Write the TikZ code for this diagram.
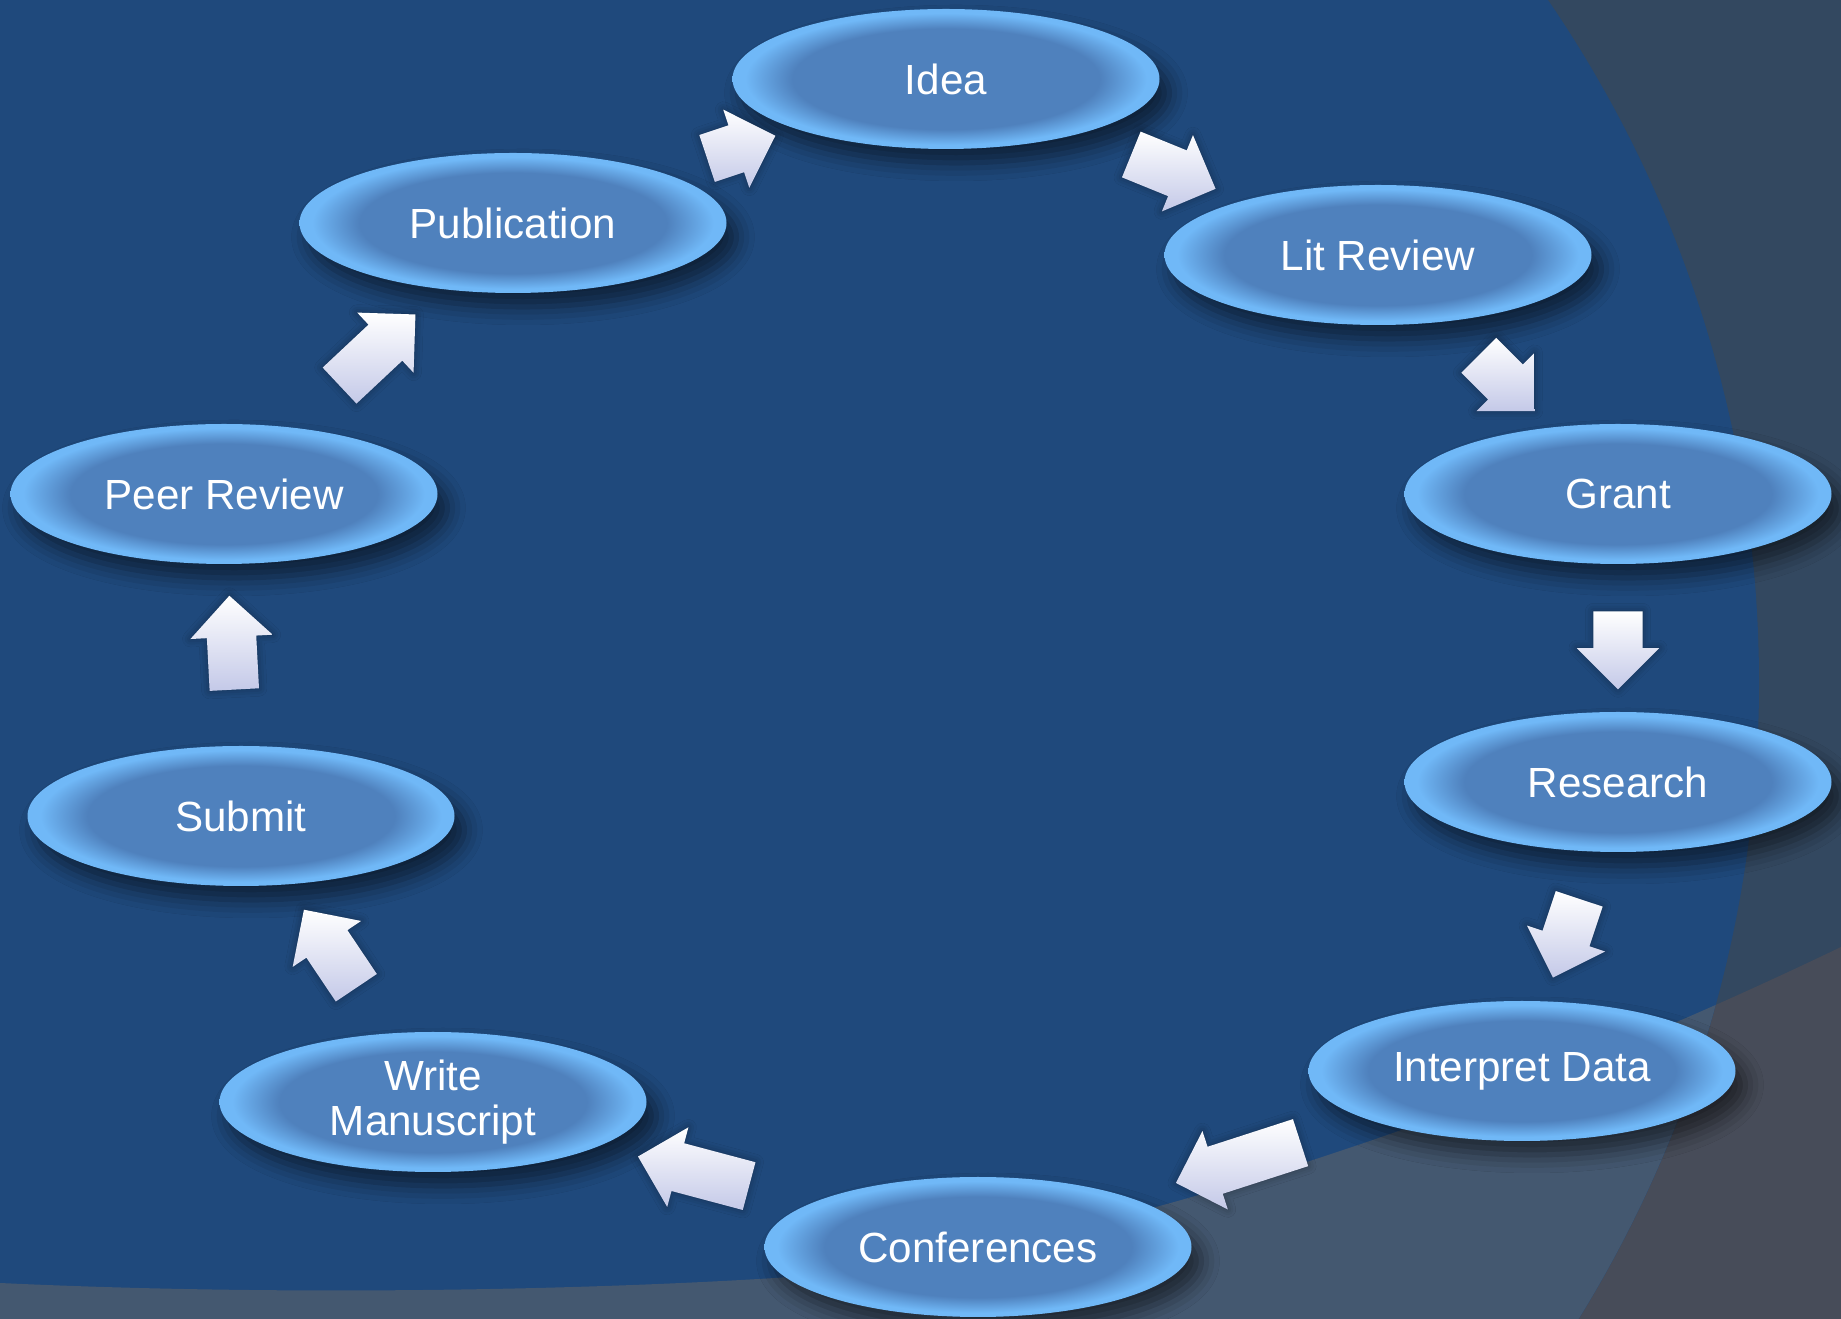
\documentclass[tikz,border=0pt]{standalone}
\usepackage{fontspec}
\setmainfont{Liberation Sans}
\usepackage{xcolor}
\usepackage{tikz}
\usetikzlibrary{shapes.geometric,shapes.arrows,shadows.blur}
\definecolor{bgBlue}{RGB}{31,73,124}
\definecolor{bgSlate}{RGB}{51,72,96}
\definecolor{bgLow}{RGB}{68,88,112}
\definecolor{bgGray}{RGB}{71,76,89}
\definecolor{stMid}{RGB}{79,129,189}
\definecolor{stRim}{RGB}{112,184,247}
\definecolor{arLav}{RGB}{196,201,232}
\pgfdeclareradialshading{stageshade}{\pgfpoint{0bp}{0bp}}{color(0bp)=(stMid); color(18bp)=(stMid); color(23.5bp)=(stRim); color(25bp)=(stRim); color(50bp)=(stRim)}

\begin{document}
\begin{tikzpicture}[
  stage/.style={ellipse, shade, shading=stageshade, minimum width=4.27cm, minimum height=1.4cm, inner sep=0pt,
    text=white, align=center, font=\fontsize{12}{12.7}\selectfont,
    blur shadow={shadow xshift=0.1cm, shadow yshift=-0.14cm, shadow blur radius=0.18cm, shadow opacity=55}},
  flowarrow/.style={single arrow, single arrow head extend=0.165cm, inner xsep=0pt, inner ysep=0.24cm,
    sloped, allow upside down, top color=white, bottom color=arLav,
    blur shadow={shadow xshift=0pt, shadow yshift=0pt, shadow blur radius=0.08cm, shadow opacity=35}}]
  \useasboundingbox (0,0) rectangle (18.41,13.19);

  % background
  \fill[bgSlate] (0,0) rectangle (18.41,13.19);
  \fill[bgGray] (0,-1) -- (0,0.36) .. controls (3,0.22) and (6,0.30) .. (7.75,0.41)
    .. controls (10,0.55) and (14,1.6) .. (18.41,3.72) -- (18.41,-1) -- cycle;
  \begin{scope}
    \clip (5.49,6.36) circle (12.1);
    \fill[bgBlue] (0,0) rectangle (18.41,13.19);
    \fill[bgLow] (0,-1) -- (0,0.36) .. controls (3,0.22) and (6,0.30) .. (7.75,0.41)
      .. controls (10,0.55) and (14,1.6) .. (18.41,3.72) -- (18.41,-1) -- cycle;
  \end{scope}

  \node[stage] (idea)     at (9.46,12.40) {Idea};
  \node[stage] (lit)      at (13.78,10.64) {Lit Review};
  \node[stage] (grant)    at (16.18,8.25) {Grant};
  \node[stage] (research) at (16.18,5.37) {Research};
  \node[stage] (interp)   at (15.22,2.48) {Interpret Data};
  \node[stage] (conf)     at (9.78,0.72) {Conferences};
  \node[stage] (write)    at (4.33,2.17) {Write\\Manuscript};
  \node[stage] (submit)   at (2.41,5.03) {Submit};
  \node[stage] (peer)     at (2.24,8.25) {Peer Review};
  \node[stage] (pub)      at (5.13,10.96) {Publication};

  \path (pub) -- node[flowarrow, minimum height=0.72cm] (a-pub) {} (idea);
  \path (idea) -- node[flowarrow, minimum height=0.91cm] (a-idea) {} (lit);
  \path (lit) -- node[flowarrow, minimum height=0.79cm] (a-lit) {} (grant);
  \path (grant) -- node[flowarrow, minimum height=0.78cm] (a-grant) {} (research);
  \path (research) -- node[flowarrow, minimum height=0.83cm] (a-research) {} (interp);
  \path (interp) -- node[flowarrow, minimum height=1.31cm] (a-interp) {} (conf);
  \path (conf) -- node[flowarrow, minimum height=1.15cm] (a-conf) {} (write);
  \path (write) -- node[flowarrow, minimum height=0.94cm] (a-write) {} (submit);
  \path (submit) -- node[flowarrow, minimum height=0.94cm] (a-submit) {} (peer);
  \path (peer) -- node[flowarrow, minimum height=1.04cm] (a-peer) {} (pub);
\end{tikzpicture}
\end{document}
